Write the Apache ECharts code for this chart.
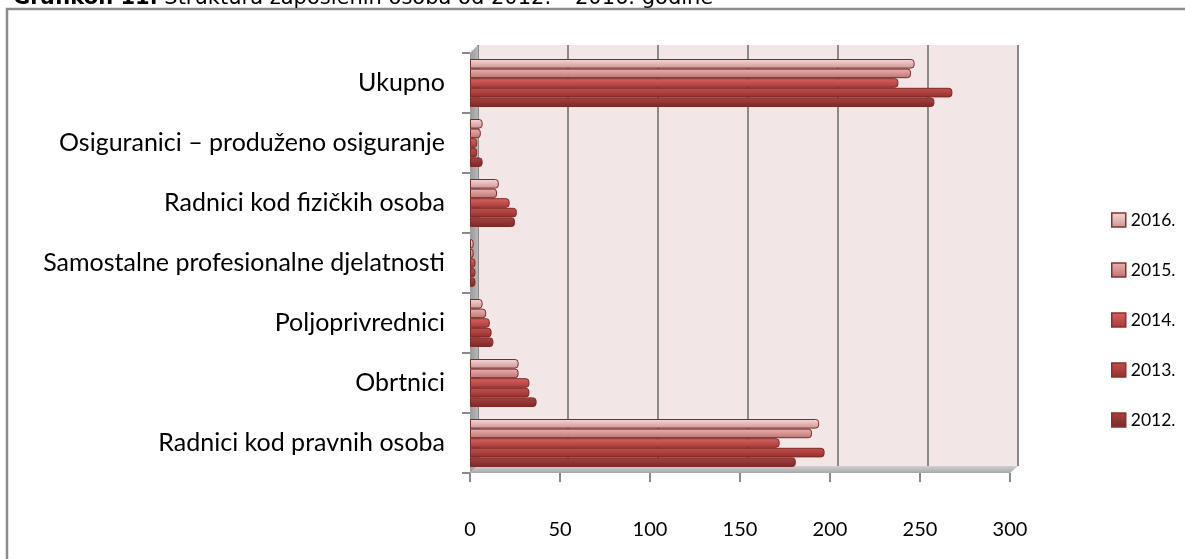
<!DOCTYPE html>
<html>
<head>
<meta charset="utf-8">
<script src="https://cdn.jsdelivr.net/npm/echarts@6/dist/echarts.min.js"></script>
<style>
html,body{margin:0;padding:0;background:#fff;}
#chart{width:1185px;height:559px;}
</style>
</head>
<body>
<div id="chart"></div>
<script>
const categories = [
  'Radnici kod pravnih osoba',
  'Obrtnici',
  'Poljoprivrednici',
  'Samostalne profesionalne djelatnosti',
  'Radnici kod fizičkih osoba',
  'Osiguranici – produženo osiguranje',
  'Ukupno'
];
const years = ['2016.', '2015.', '2014.', '2013.', '2012.'];
const v2016 = [194, 27, 7, 2, 16, 7, 247];
const v2015 = [190, 27, 9, 2, 15, 6, 245];
const v2014 = [172, 33, 11, 3, 22, 4, 238];
const v2013 = [197, 33, 12, 3, 26, 4, 268];
const v2012 = [181, 37, 13, 3, 25, 7, 258];
const xTicks = [0, 50, 100, 150, 200, 250, 300];

const values = [v2016, v2015, v2014, v2013, v2012];
const palette = [
  ['#f6dada', '#e6b9b8', '#c99594'],
  ['#e9b2b0', '#d99694', '#b97472'],
  ['#d9625f', '#c4504d', '#a03c3a'],
  ['#c24f4c', '#b1423f', '#8d302e'],
  ['#a84442', '#953735', '#742927']
];
const FONT = 'Lato';

const chart = echarts.init(document.getElementById('chart'), null, {renderer: 'canvas'});

const series = years.map((y, i) => ({
  name: y,
  type: 'bar',
  xAxisIndex: 1,
  yAxisIndex: 1,
  data: values[i],
  barGap: '0%',
  barCategoryGap: '20%',
  itemStyle: {
    color: new echarts.graphic.LinearGradient(0, 0, 0, 1, [
      {offset: 0, color: palette[i][0]},
      {offset: 0.45, color: palette[i][1]},
      {offset: 1, color: palette[i][2]}
    ]),
    borderColor: '#7f2a28',
    borderWidth: 1,
    borderRadius: [0, 3, 3, 0]
  },
  z: 5
}));

chart.setOption({
  animation: false,
  backgroundColor: '#ffffff',
  title: {
    text: '{b|Grafikon 11.} Struktura zaposlenih osoba od 2012. – 2016. godine',
    left: 8,
    top: -17,
    textStyle: {
      fontFamily: 'DejaVu Sans',
      fontSize: 21,
      fontWeight: 'normal',
      color: '#000',
      rich: { b: { fontFamily: 'DejaVu Sans', fontSize: 21, fontWeight: 'bold', color: '#000' } }
    }
  },
  legend: {
    data: years,
    orient: 'vertical',
    left: 1106,
    top: 205,
    icon: 'rect',
    itemWidth: 14,
    itemHeight: 14,
    itemGap: 30,
    textStyle: { fontFamily: FONT, fontSize: 17.5, color: '#000', lineHeight: 20 },
    itemStyle: { borderColor: '#8b2f2d', borderWidth: 1.5 }
  },
  grid: [
    { left: 478, top: 45, width: 540, height: 421, show: true, backgroundColor: '#f3e6e7', borderWidth: 0 },
    { left: 470, top: 53, width: 540, height: 420 }
  ],
  xAxis: [
    {
      gridIndex: 0, type: 'value', min: 0, max: 300, interval: 50,
      axisLine: { show: false }, axisTick: { show: false }, axisLabel: { show: false },
      splitLine: { show: true, lineStyle: { color: '#8a8a8a', width: 2 } }
    },
    {
      gridIndex: 1, type: 'value', min: 0, max: 300, interval: 50,
      axisLine: { show: false },
      axisTick: { show: true, length: 9, lineStyle: { color: '#8a8a8a', width: 2 } },
      axisLabel: {
        margin: 47, fontFamily: FONT, fontSize: 20, color: '#000',
        formatter: (v) => xTicks.includes(v) ? String(v) : ''
      },
      splitLine: { show: false }
    }
  ],
  yAxis: [
    { gridIndex: 0, type: 'category', data: categories, show: false },
    {
      gridIndex: 1, type: 'category', data: categories,
      axisLine: { show: false },
      axisTick: { show: true, length: 8, lineStyle: { color: '#8a8a8a', width: 2 } },
      axisLabel: { margin: 25, fontFamily: FONT, fontSize: 25, color: '#000' }
    }
  ],
  graphic: [
    {
      type: 'rect', silent: true, z: -1,
      shape: { x: 7, y: 9, width: 1300, height: 700 },
      style: { fill: 'none', stroke: '#8c8c8c', lineWidth: 2.5 }
    },
    {
      type: 'polygon', silent: true, z: 1,
      shape: { points: [[470, 53], [478, 45], [478, 466], [470, 473]] },
      style: { fill: new echarts.graphic.LinearGradient(0, 0, 1, 0, [{offset: 0, color: '#9a9a9a'}, {offset: 1, color: '#b8b8b8'}]) }
    },
    {
      type: 'polygon', silent: true, z: 1,
      shape: { points: [[470, 473], [1010, 473], [1018, 466], [478, 466]] },
      style: { fill: new echarts.graphic.LinearGradient(0, 0, 0, 1, [{offset: 0, color: '#d0d0d0'}, {offset: 1, color: '#a8a8a8'}]) }
    }
  ],
  series: series
});
</script>
</body>
</html>
